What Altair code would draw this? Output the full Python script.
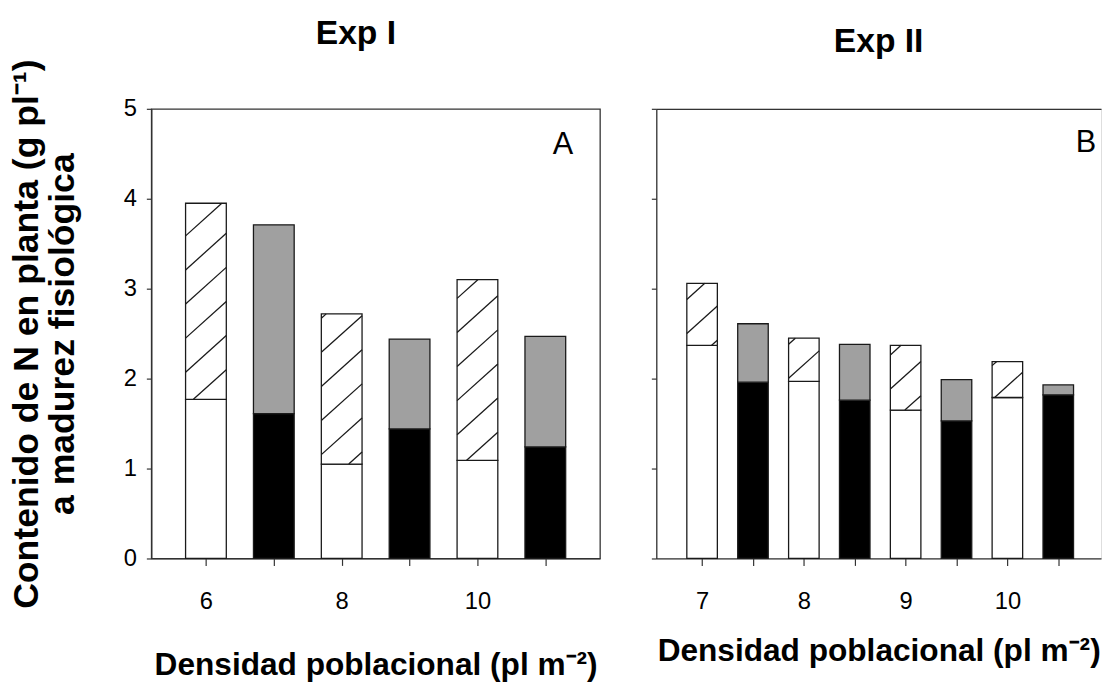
import math
import altair as alt
import pandas as pd

FONT = "Liberation Sans"

# ---------------- data ----------------
# Exp I
tick_labels_A = ["6", "", "8", "", "10", ""]
kind_A = ["a", "b", "a", "b", "a", "b"]
lower_A = [1.77, 1.61, 1.05, 1.44, 1.09, 1.24]
total_A = [3.95, 3.71, 2.72, 2.44, 3.10, 2.47]

# Exp II
tick_labels_B = ["7", "", "8", "", "9", "", "10", ""]
kind_B = ["a", "b", "a", "b", "a", "b", "a", "b"]
lower_B = [2.37, 1.96, 1.97, 1.76, 1.65, 1.53, 1.79, 1.82]
total_B = [3.06, 2.61, 2.45, 2.38, 2.37, 1.99, 2.19, 1.93]

panel_titles = ["Exp I", "Exp II"]
panel_letters = ["A", "B"]
y_title = ["Contenido de N en planta (g pl\u207b\u00b9)", "a madurez fisiológica"]
x_title = "Densidad poblacional (pl m\u207b\u00b2)"

parts = ["blanco", "rayado", "negro", "gris"]
part_colors = ["white", "white", "black", "#a0a0a0"]

HALF = 0.30          # half bar width (x units)
STROKE = "#1a1a1a"
AXC = "#333333"


def segments(kind, lower, total):
    rows = []
    for i, (k, lo, tot) in enumerate(zip(kind, lower, total)):
        lo_part, up_part = ("blanco", "rayado") if k == "a" else ("negro", "gris")
        rows.append(dict(pos=i, x0=i - HALF, x1=i + HALF, y0=0.0, y1=lo, part=lo_part))
        rows.append(dict(pos=i, x0=i - HALF, x1=i + HALF, y0=lo, y1=tot, part=up_part))
    return pd.DataFrame(rows)


def hatch_lines(df, px_x, px_y, slope_px=0.9, gap_px=34.5):
    m = slope_px * px_x / px_y      # y-units per x-unit
    d = gap_px / px_y               # vertical gap in y-units
    out = []
    for _, r in df[df.part == "rayado"].iterrows():
        xl, xr, yb, yt = r.x0, r.x1, r.y0, r.y1
        k0 = math.ceil((yb - m * xr) / d)
        k1 = math.floor((yt - m * xl) / d)
        for k in range(k0, k1 + 1):
            c = k * d
            xa = max(xl, (yb - c) / m)
            xb = min(xr, (yt - c) / m)
            if xb - xa > 1e-6:
                out.append(dict(hx0=xa, hy0=c + m * xa, hx1=xb, hy1=c + m * xb))
    return pd.DataFrame(out)


def panel(idx, kind, lower, total, labels, width, height, xdom, show_y, title_dx,
          title_offset, xtitle_y, letter_x, letter_y, top_axis):
    df = segments(kind, lower, total)
    px_x = width / (xdom[1] - xdom[0])
    px_y = height / 5.0
    hl = hatch_lines(df, px_x, px_y)
    n = len(kind)
    label_expr = "[" + ",".join("'%s'" % s for s in labels) + "][datum.value]"

    xscale = alt.Scale(domain=xdom, nice=False, zero=False)
    yscale = alt.Scale(domain=[0, 5], nice=False)

    xaxis = alt.Axis(values=list(range(n)), labelExpr=label_expr, grid=False,
                     tickSize=7, tickColor=AXC, tickWidth=1.2, domainColor=AXC,
                     domainWidth=1.3, labelFont=FONT, labelFontSize=24,
                     labelColor="black", labelPadding=25, title=x_title,
                     titleFont=FONT, titleFontSize=32, titleFontWeight="bold",
                     titleColor="black", titleBaseline="alphabetic",
                     titleX=width / 2, titleY=xtitle_y, titleAlign="center")
    if show_y:
        yaxis = alt.Axis(values=[0, 1, 2, 3, 4, 5], grid=False, tickSize=5,
                         tickColor=AXC, tickWidth=1.2, domainColor=AXC,
                         domainWidth=1.3, labelFont=FONT, labelFontSize=24,
                         labelColor="black", labelPadding=10, title=y_title,
                         titleFont=FONT, titleFontSize=36, titleFontWeight="bold",
                         titleColor="black", titleLineHeight=36,
                         titleBaseline="alphabetic", titleAngle=270,
                         titleAlign="center", titleX=-115, titleY=height / 2)
    else:
        yaxis = alt.Axis(values=[0, 1, 2, 3, 4, 5], grid=False, tickSize=5,
                         tickColor=AXC, tickWidth=1.2, domainColor=AXC,
                         domainWidth=1.3, labels=False, title=None)

    y_enc = alt.Y("y0:Q", scale=yscale, axis=yaxis)
    x_bottom = alt.X("x0:Q", scale=xscale, axis=xaxis)

    bars = alt.Chart(df).mark_rect(stroke=STROKE, strokeWidth=1.3).encode(
        x=x_bottom,
        x2="x1:Q",
        y=y_enc,
        y2="y1:Q",
        color=alt.Color("part:N", scale=alt.Scale(domain=parts, range=part_colors),
                        legend=None),
    )
    hatch = alt.Chart(hl).mark_rule(color=STROKE, strokeWidth=1.3).encode(
        x=alt.X("hx0:Q", scale=xscale, axis=(None if top_axis else xaxis)),
        x2="hx1:Q",
        y=alt.Y("hy0:Q", scale=yscale, axis=yaxis),
        y2="hy1:Q",
    )
    letter = alt.Chart(pd.DataFrame({"letra": [panel_letters[idx]]})).mark_text(
        font=FONT, fontSize=31, align="right", baseline="alphabetic", color="black"
    ).encode(x=alt.value(letter_x), y=alt.value(letter_y), text="letra:N")

    layers = [bars, hatch, letter]
    if top_axis:
        topax = alt.Chart(df).mark_point(opacity=0).encode(
            x=alt.X("pos:Q", scale=xscale,
                    axis=alt.Axis(orient="top", labels=False, ticks=False, grid=False,
                                  domainColor=AXC, domainWidth=1.3, title=None)),
            y=y_enc,
        )
        layers.append(topax)

    ch = alt.layer(*layers).properties(
        width=width, height=height,
        title=alt.TitleParams(text=panel_titles[idx], font=FONT, fontSize=34,
                              fontWeight="bold", color="black", anchor="middle",
                              baseline="alphabetic", dx=title_dx, offset=title_offset),
    )
    if top_axis:
        ch = ch.resolve_axis(x="independent")
    else:
        ch = ch.properties(view=alt.ViewBackground(stroke=AXC, strokeWidth=1.3))
    return ch


pA = panel(0, kind_A, lower_A, total_A, tick_labels_A, 454, 455, [-0.805, 5.805],
           True, -20, -19, 117, 427, 46, False)
pB = panel(1, kind_B, lower_B, total_B, tick_labels_B, 450, 455, [-0.9, 7.84],
           False, 0, 23, 103, 445, 44, True)

chart = alt.hconcat(pA, pB, spacing=49).properties(
    padding={"left": 0, "top": 4, "right": 0, "bottom": 0}
).configure_view(stroke="transparent").configure(background="white")

chart.save("out.html", embed_options={"renderer": "svg", "actions": False})
